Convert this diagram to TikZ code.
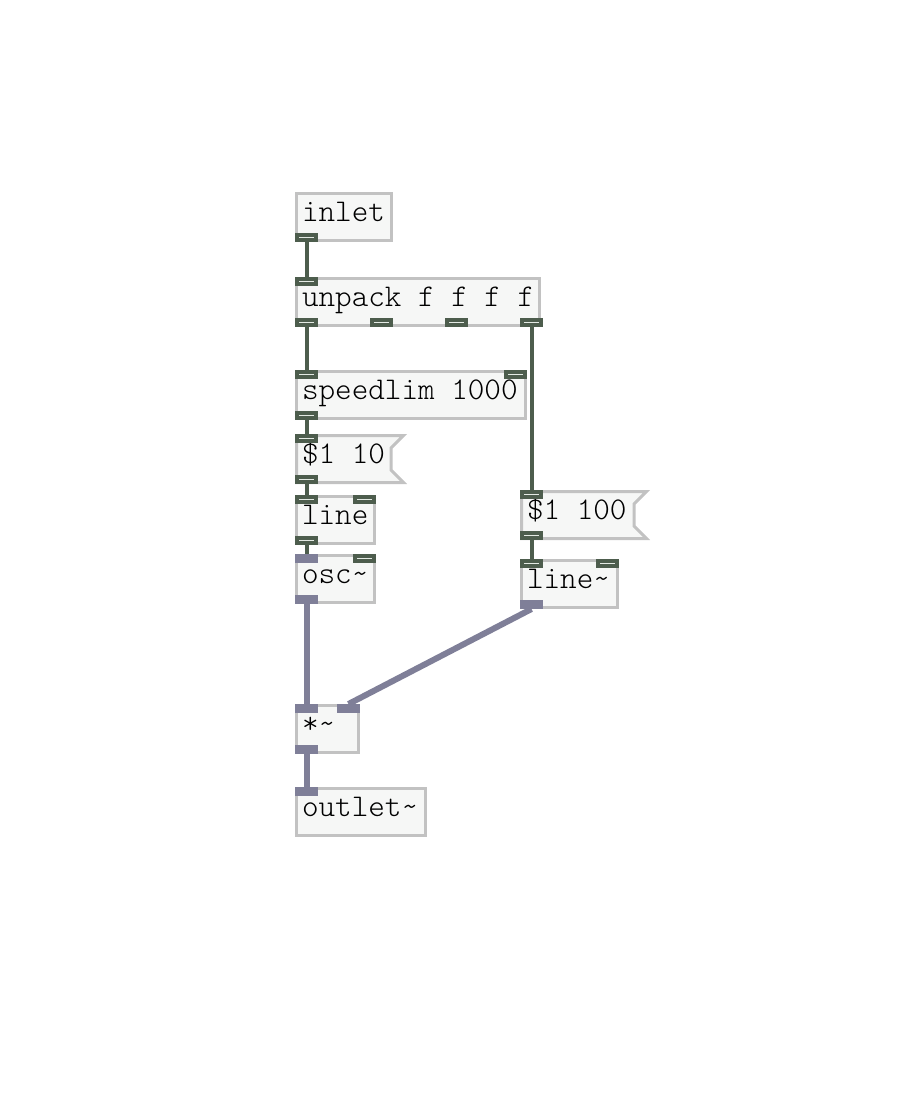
\documentclass[tikz,border=0pt]{standalone}
\usepackage{fontspec}
\newfontfamily\pdfont{lmmonolt10-regular.otf}
\usetikzlibrary{backgrounds}

% full-width spaces and left padding inside the boxes
\newcommand\pdgaps{\spaceskip=0pt\relax\xspaceskip=0pt\relax\noindent\hspace*{5.5pt}}
% message box outline (flag on the right side)
\newcommand\msgflag[1]{%
  \draw[flag] ([shift={(1.5pt,-1.5pt)}]#1.north west) -- ([shift={(-1.5pt,-1.5pt)}]#1.north east)
    -- ([shift={(-14pt,-14pt)}]#1.north east) -- ([shift={(-14pt,14pt)}]#1.south east)
    -- ([shift={(-1.5pt,1.5pt)}]#1.south east) -- ([shift={(1.5pt,1.5pt)}]#1.south west) -- cycle;}

\begin{document}
\begin{tikzpicture}[x=1pt,y=-1pt,
    obj/.style={draw=objline,fill=objfill,line width=3pt,outer sep=1.5pt,inner xsep=0pt,inner ysep=0pt,
      anchor=north west,align=left,text height=15pt,text depth=7pt,minimum height=47pt,
      font=\pdfont\fontsize{31.6}{34}\selectfont,execute at begin node={\pdgaps}},
    msg/.style={obj,draw=none,fill=none},
    flag/.style={draw=objline,fill=objfill,line width=3pt},
    cio/.style={fill=ctlline,minimum width=23pt,minimum height=9pt,inner sep=0pt,outer sep=0pt,
      path picture={\draw[iolight,line width=1.5pt] ([xshift=4pt]path picture bounding box.west) -- ([xshift=-4pt]path picture bounding box.east);}},
    sio/.style={fill=sigline,minimum width=23pt,minimum height=9pt,inner sep=0pt,outer sep=0pt},
    cwire/.style={draw=ctlline,line width=4pt},
    swire/.style={draw=sigline,line width=6pt},
]
\definecolor{objline}{RGB}{194,194,194}  \definecolor{objfill}{RGB}{246,247,246}
\definecolor{ctlline}{RGB}{77,93,77}     \definecolor{iolight}{RGB}{228,234,228}
\definecolor{sigline}{RGB}{127,127,152}

\useasboundingbox (0,0) rectangle (917,1100);

% ================= objects =================
\node[obj,text width=95pt]  (inlet)    at (295,192) {inlet};
\node[obj,text width=243pt] (unpack)   at (295,277) {unpack f f f f};
\node[obj,text width=229pt] (speedlim) at (295,370) {speedlim 1000};
\node[msg,text width=107pt] (msgA)     at (295,434) {\$1 10};
\node[obj,text width=78pt]  (line)     at (295,495) {line};
\node[obj,text width=78pt]  (osc)      at (295,554) {osc\textasciitilde};
\node[msg,text width=125pt] (msgB)     at (520,490) {\$1 100};
\node[obj,text width=96pt]  (linesig)  at (520,559) {line\textasciitilde};
\node[obj,text width=62pt]  (mul)      at (295,704) {*\textasciitilde};
\node[obj,text width=129pt] (outlet)   at (295,787) {outlet\textasciitilde};
\begin{scope}[on background layer]
  \msgflag{msgA} \msgflag{msgB}
\end{scope}

% ================= inlets / outlets =================
\node[cio,anchor=south west] (inlet-o)    at (inlet.south west) {};
\node[cio,anchor=north west] (unpack-i)   at (unpack.north west) {};
\node[cio,anchor=south west] (unpack-o1)  at (unpack.south west) {};
\node[cio,anchor=south west] (unpack-o2)  at ([xshift=75pt]unpack.south west) {};
\node[cio,anchor=south west] (unpack-o3)  at ([xshift=150pt]unpack.south west) {};
\node[cio,anchor=south east] (unpack-o4)  at ([xshift=2pt]unpack.south east) {};
\node[cio,anchor=north west] (speedlim-i1) at (speedlim.north west) {};
\node[cio,anchor=north east] (speedlim-i2) at (speedlim.north east) {};
\node[cio,anchor=south west] (speedlim-o) at (speedlim.south west) {};
\node[cio,anchor=north west] (msgA-i)     at (msgA.north west) {};
\node[cio,anchor=south west] (msgA-o)     at (msgA.south west) {};
\node[cio,anchor=north west] (line-i1)    at (line.north west) {};
\node[cio,anchor=north east] (line-i2)    at (line.north east) {};
\node[cio,anchor=south west] (line-o)     at (line.south west) {};
\node[sio,anchor=north west] (osc-i1)     at (osc.north west) {};
\node[cio,anchor=north east] (osc-i2)     at (osc.north east) {};
\node[sio,anchor=south west] (osc-o)      at (osc.south west) {};
\node[cio,anchor=north west] (msgB-i)     at (msgB.north west) {};
\node[cio,anchor=south west] (msgB-o)     at (msgB.south west) {};
\node[cio,anchor=north west] (linesig-i1) at (linesig.north west) {};
\node[cio,anchor=north east] (linesig-i2) at (linesig.north east) {};
\node[sio,anchor=south west] (linesig-o)  at (linesig.south west) {};
\node[sio,anchor=north west] (mul-i1)     at (mul.north west) {};
\node[sio,anchor=north east] (mul-i2)     at (mul.north east) {};
\node[sio,anchor=south west] (mul-o)      at (mul.south west) {};
\node[sio,anchor=north west] (outlet-i)   at (outlet.north west) {};

% ================= connections =================
\draw[cwire] (inlet-o.south) -- (unpack-i.north);
\draw[cwire] (unpack-o1.south) -- (speedlim-i1.north);
\draw[cwire] (unpack-o4.south) -- (msgB-i.north);
\draw[cwire] (speedlim-o.south) -- (msgA-i.north);
\draw[cwire] (msgA-o.south) -- (line-i1.north);
\draw[cwire] (line-o.south) -- (osc-i1.north);
\draw[cwire] (msgB-o.south) -- (linesig-i1.north);
\draw[swire] (osc-o.south) -- (mul-i1.north);
\draw[swire] (linesig-o.south) -- (mul-i2.north);
\draw[swire] (mul-o.south) -- (outlet-i.north);

\end{tikzpicture}
\end{document}
